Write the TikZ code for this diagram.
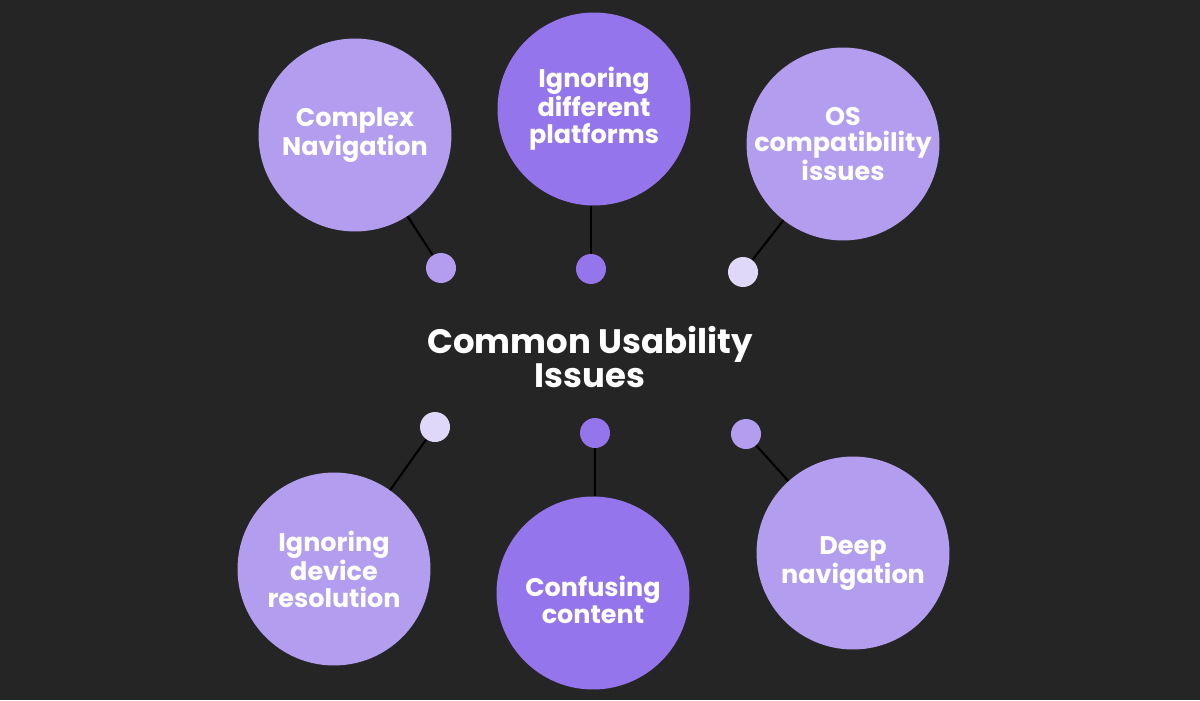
\documentclass[tikz,border=0pt]{standalone}
\usepackage{fontspec}
\setmainfont{Poppins}
\usepackage{tikz}

\definecolor{fond}{HTML}{252525}
\definecolor{lilas}{HTML}{B39DEF}
\definecolor{violet}{HTML}{9575EB}
\definecolor{pale}{HTML}{E0D8F8}

\tikzset{
  bulle/.style={circle, fill=#1, minimum size=3.86cm, inner sep=0pt,
    text=white, align=center, font=\fontsize{14.5}{15.3}\selectfont\bfseries},
  texte/.style={text=white, align=center, inner sep=0pt,
    font=\fontsize{14.5}{15.3}\selectfont\bfseries},
  point/.style={circle, fill=#1, minimum size=0.6cm, inner sep=0pt},
  lien/.style={black, line width=1.2pt}
}

\begin{document}
\begin{tikzpicture}[x=0.02cm, y=-0.02cm]
  % Fond
  \fill[fond] (0,0) rectangle (1200,700);
  \useasboundingbox (0,0) rectangle (1200,700);

  % Bulles du haut
  \node[bulle=lilas] (cn) at (355,135) {Complex\\Navigation};
  \node[bulle=violet] (idp) at (594,109) {Ignoring\\different\\platforms};
  \node[bulle=lilas] (os) at (843,144) {OS\\compatibility\\issues};

  % Bulles du bas
  \node[bulle=lilas] (idr) at (334,569) {Ignoring\\device\\resolution};
  \node[bulle=violet] (cc) at (593,593) {};
  \node[texte] (cct) at ([yshift=-0.14cm]cc.center) {Confusing\\content};
  \node[bulle=lilas] (dn) at (853,553) {};
  \node[texte] (dnt) at ([yshift=-0.22cm]dn.center) {Deep\\navigation};

  % Petits points
  \node[point=lilas] (p1) at (441,268) {};
  \node[point=violet] (p2) at (591,269) {};
  \node[point=pale] (p3) at (743,272) {};
  \node[point=pale] (p4) at (435,427) {};
  \node[point=violet] (p5) at (595,433) {};
  \node[point=lilas] (p6) at (746,434) {};

  % Liaisons
  \draw[lien] (p1) -- (cn);
  \draw[lien] (p2) -- (p2 |- idp.south);
  \draw[lien] (p3) -- (os);
  \draw[lien] (p4) -- (idr);
  \draw[lien] (p5) -- (p5 |- cc.north);
  \draw[lien] (p6) -- (dn);

  % Titre
  \node[text=white, align=center, font=\fontsize{19.3}{17.6}\selectfont\bfseries]
    (titre) at (590,357) {Common Usability\\Issues};
\end{tikzpicture}
\end{document}
